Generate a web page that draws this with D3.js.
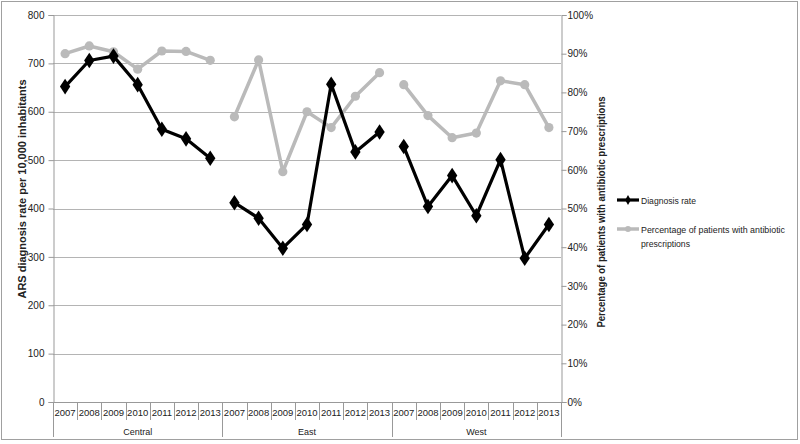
<!DOCTYPE html>
<html><head><meta charset="utf-8">
<script src="https://cdn.jsdelivr.net/npm/d3@7"></script>
<style>body{margin:0;background:#fff}svg{display:block}text{font-family:"Liberation Sans",Arial,sans-serif;fill:#222}</style>
</head><body>
<svg id="c" width="800" height="444"></svg>
<script>
const regions = ["Central","East","West"];
const years = ["2007","2008","2009","2010","2011","2012","2013"];
const diagCentral = [652, 706, 715, 656, 564, 544, 504];
const diagEast = [412, 380, 318, 367, 657, 517, 558];
const diagWest = [528, 404, 468, 385, 501, 297, 367];
const pctCentral = [90.0, 92.0, 90.5, 86.0, 90.7, 90.6, 88.3];
const pctEast = [73.7, 88.4, 59.5, 75.0, 70.9, 79.0, 85.1];
const pctWest = [82.0, 74.0, 68.3, 69.5, 83.0, 82.0, 70.9];
const leftTicks = [0,100,200,300,400,500,600,700,800];
const rightTicks = [0,10,20,30,40,50,60,70,80,90,100];

const diag = [diagCentral, diagEast, diagWest];
const pct = [pctCentral, pctEast, pctWest];

const svg = d3.select("#c");
const L = 53, R = 561, T = 15, B = 402;
const cats = [];
regions.forEach(r => years.forEach(y => cats.push(r + "|" + y)));
const x = d3.scaleBand().domain(cats).range([L, R]);
const yL = d3.scaleLinear().domain([0, 800]).range([B, T]);
const yR = d3.scaleLinear().domain([0, 100]).range([B, T]);

// border
svg.append("rect").attr("x",1.5).attr("y",1.5).attr("width",796).attr("height",438)
  .attr("fill","none").attr("stroke","#a0a0a0");

// gridlines
svg.append("g").selectAll("line").data(leftTicks.filter(d=>d>0)).join("line")
  .attr("x1",L).attr("x2",R).attr("y1",d=>Math.round(yL(d))+0.5).attr("y2",d=>Math.round(yL(d))+0.5)
  .attr("stroke","#b4b4b4").attr("stroke-width",1);

// left axis
const gL = svg.append("g").attr("transform",`translate(${L+0.5},0)`)
  .call(d3.axisLeft(yL).tickValues(leftTicks).tickSize(5).tickPadding(4));
gL.select(".domain").attr("stroke","#999");
gL.selectAll(".tick line").attr("stroke","#999");
gL.selectAll("text").style("font-size","10px").attr("fill","#222");

// right axis
const gR = svg.append("g").attr("transform",`translate(${R+0.5},0)`)
  .call(d3.axisRight(yR).tickValues(rightTicks).tickSize(5).tickPadding(1).tickFormat(d=>d+"%"));
gR.select(".domain").attr("stroke","#999");
gR.selectAll(".tick line").attr("stroke","#999");
gR.selectAll("text").style("font-size","10px").attr("fill","#222");

// bottom axis line
svg.append("line").attr("x1",L).attr("x2",R).attr("y1",B+0.5).attr("y2",B+0.5).attr("stroke","#999");

// category ticks
const bw = x.bandwidth();
cats.forEach((c,i) => {
  const xx = Math.round(x(c)) + 0.5;
  const isGroup = i % years.length === 0;
  svg.append("line").attr("x1",xx).attr("x2",xx).attr("y1",B).attr("y2", isGroup ? 437 : 420)
    .attr("stroke","#999");
  svg.append("text").attr("x", x(c)+bw/2).attr("y",416).attr("text-anchor","middle")
    .style("font-size","9.5px").text(c.split("|")[1]);
});
svg.append("line").attr("x1",R+0.5).attr("x2",R+0.5).attr("y1",B).attr("y2",437).attr("stroke","#999");
regions.forEach(r => {
  const x0 = x(r+"|"+years[0]), x1 = x(r+"|"+years[years.length-1]) + bw;
  svg.append("text").attr("x",(x0+x1)/2).attr("y",435).attr("text-anchor","middle")
    .style("font-size","9px").text(r);
});

// axis titles
svg.append("text").attr("transform",`translate(26,189) rotate(-90)`).attr("text-anchor","middle")
  .style("font-size","10.5px").style("font-weight","bold")
  .attr("textLength",219).attr("lengthAdjust","spacingAndGlyphs")
  .text("ARS diagnosis rate per 10,000 inhabitants");
svg.append("text").attr("transform",`translate(605,212) rotate(-90)`).attr("text-anchor","middle")
  .style("font-size","10.5px").style("font-weight","bold")
  .attr("textLength",231).attr("lengthAdjust","spacingAndGlyphs")
  .text("Percentage of patients with antibiotic prescriptions");

// series
const grayC = "#bababa";
const diamond = d3.symbol().type(d3.symbolDiamond).size(70);
regions.forEach((r,ri) => {
  const pts = years.map((y,i) => [x(r+"|"+y)+bw/2, yR(pct[ri][i])]);
  svg.append("path").attr("d", d3.line()(pts)).attr("fill","none").attr("stroke",grayC).attr("stroke-width",3.5).attr("stroke-linejoin","round");
  svg.append("g").selectAll("circle").data(pts).join("circle").attr("cx",d=>d[0]).attr("cy",d=>d[1]).attr("r",4.6).attr("fill",grayC);
});
regions.forEach((r,ri) => {
  const pts = years.map((y,i) => [x(r+"|"+y)+bw/2, yL(diag[ri][i])]);
  svg.append("path").attr("d", d3.line()(pts)).attr("fill","none").attr("stroke","#000").attr("stroke-width",3.2).attr("stroke-linejoin","round");
  svg.append("g").selectAll("path").data(pts).join("path").attr("d",diamond).attr("transform",d=>`translate(${d[0]},${d[1]}) scale(1.15,1)`).attr("fill","#000");
});

// legend
const lg = svg.append("g");
lg.append("line").attr("x1",617).attr("x2",639).attr("y1",200).attr("y2",200).attr("stroke","#000").attr("stroke-width",3.2);
lg.append("path").attr("d",d3.symbol().type(d3.symbolDiamond).size(28)).attr("transform","translate(628,200)").attr("fill","#000");
lg.append("text").attr("x",641).attr("y",204).style("font-size","9.5px")
  .attr("textLength",55).attr("lengthAdjust","spacingAndGlyphs").text("Diagnosis rate");
lg.append("line").attr("x1",617).attr("x2",639).attr("y1",229).attr("y2",229).attr("stroke",grayC).attr("stroke-width",3.5);
lg.append("circle").attr("cx",628).attr("cy",229).attr("r",3).attr("fill",grayC);
lg.append("text").attr("x",641).attr("y",233).style("font-size","9.5px")
  .attr("textLength",144).attr("lengthAdjust","spacingAndGlyphs").text("Percentage of patients with antibiotic");
lg.append("text").attr("x",641).attr("y",247).style("font-size","9.5px")
  .attr("textLength",49).attr("lengthAdjust","spacingAndGlyphs").text("prescriptions");
</script>
</body></html>
